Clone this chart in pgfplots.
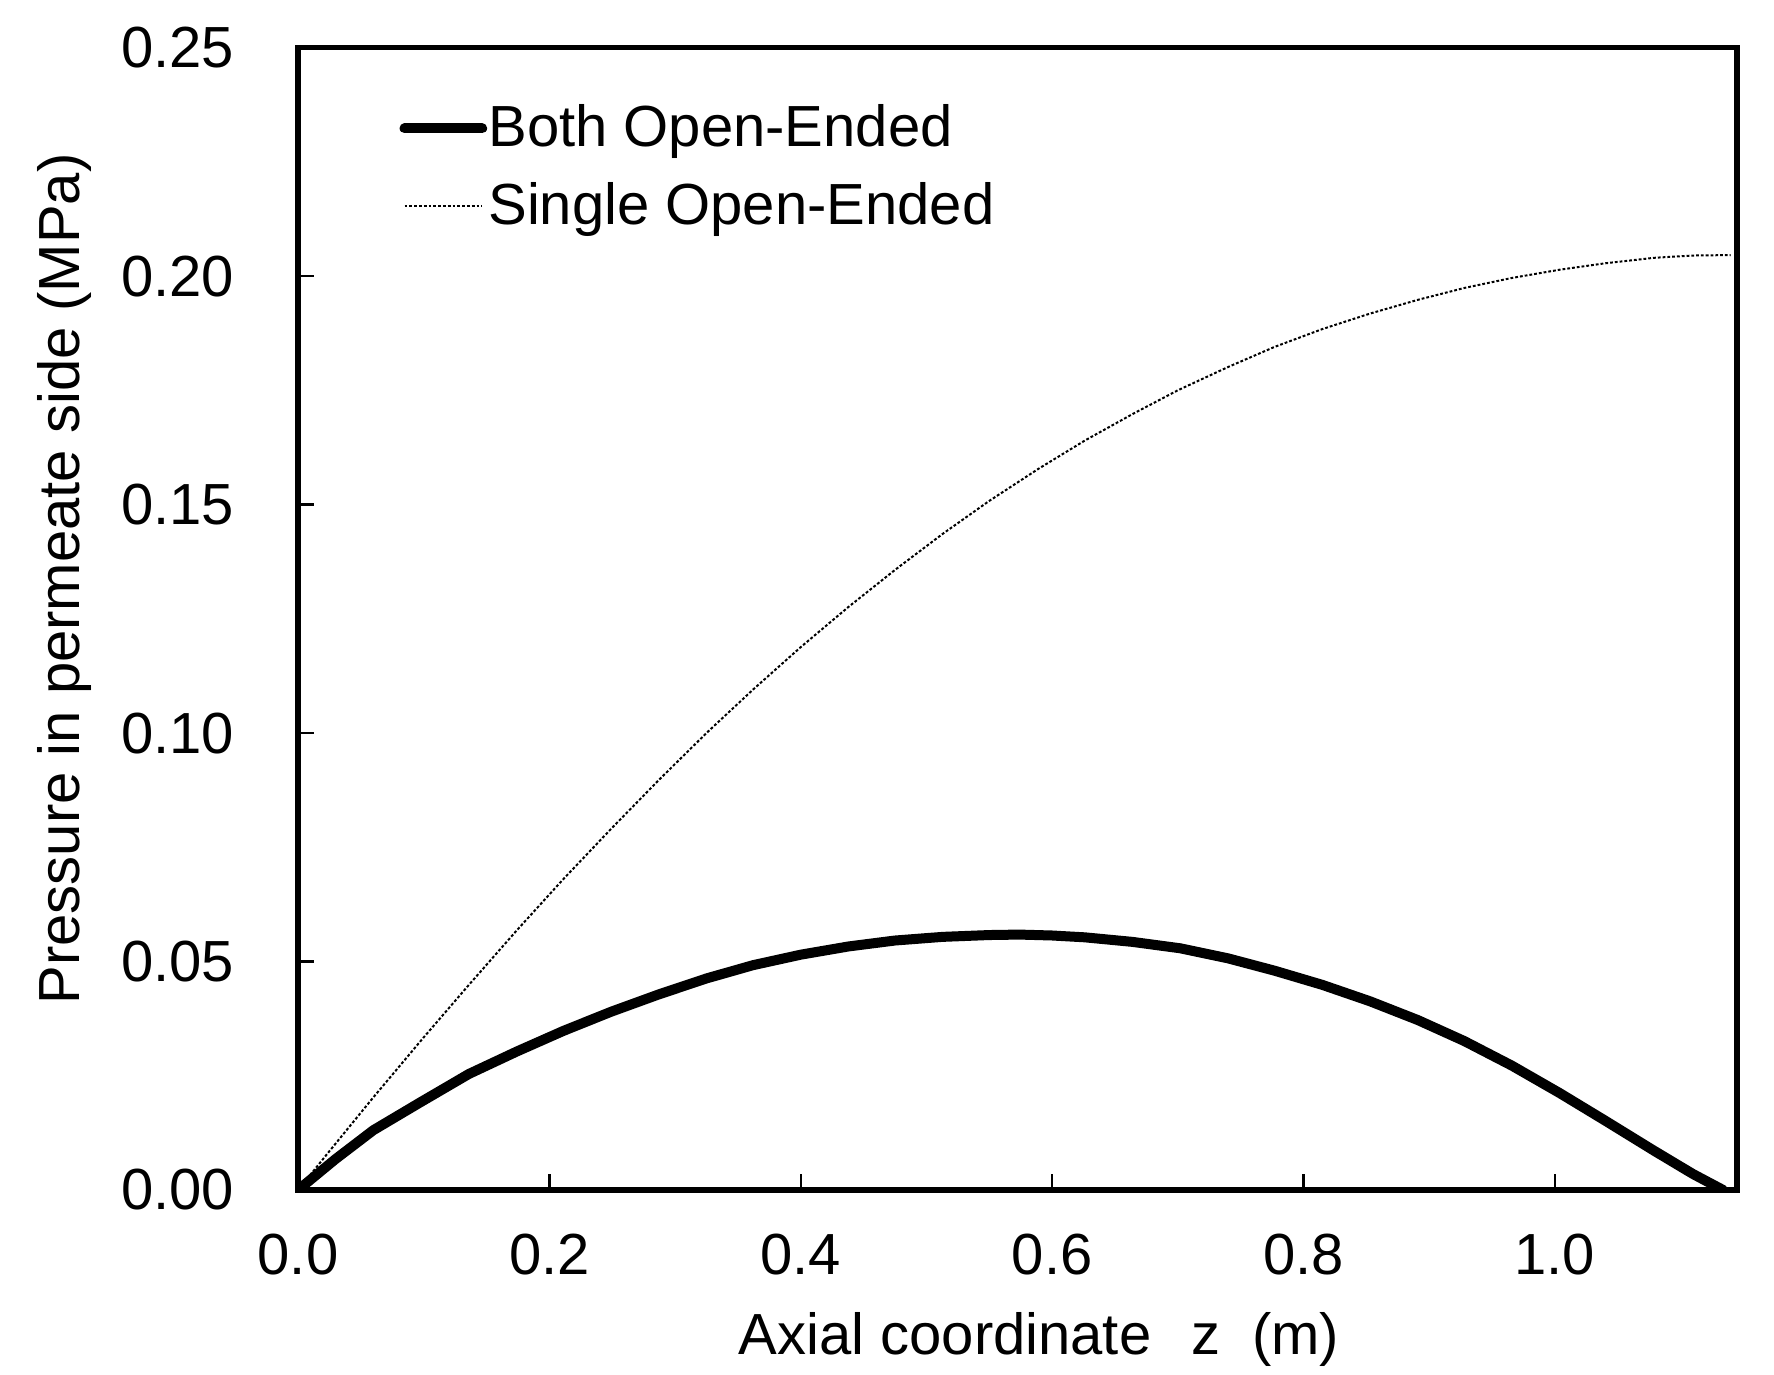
\documentclass[border=0pt]{standalone}
\usepackage{fontspec}
\setmainfont{Liberation Sans}
\usepackage{pgfplots}
\pgfplotsset{compat=1.18}

\pgfplotstableread{
x y
0 0
0.025 0.0085
0.06 0.0203
0.10 0.0334
0.136 0.0449
0.174 0.0568
0.211 0.0680
0.249 0.0790
0.287 0.0897
0.325 0.1000
0.362 0.1095
0.40 0.1188
0.438 0.1276
0.475 0.1357
0.513 0.1436
0.55 0.1508
0.589 0.1578
0.626 0.1640
0.664 0.1698
0.70 0.1750
0.74 0.1801
0.777 0.1845
0.815 0.1884
0.853 0.1918
0.891 0.1948
0.928 0.1974
0.966 0.1996
1.004 0.2014
1.04 0.2028
1.079 0.2040
1.11 0.2045
1.14 0.2046
}\singledata

\pgfplotstableread{
x y
0 0
0.03 0.0068
0.060 0.0131
0.098 0.0193
0.136 0.0254
0.174 0.0303
0.211 0.0348
0.249 0.0390
0.287 0.0428
0.325 0.0463
0.362 0.0492
0.40 0.0515
0.438 0.0533
0.475 0.0546
0.513 0.0554
0.55 0.0558
0.574 0.0559
0.60 0.0557
0.626 0.0553
0.664 0.0543
0.702 0.0529
0.74 0.0507
0.777 0.0480
0.815 0.0449
0.853 0.0413
0.891 0.0372
0.928 0.0326
0.966 0.0272
1.004 0.0212
1.04 0.0152
1.079 0.0086
1.11 0.0035
1.134 0.0
}\bothdata

\begin{document}
\begin{tikzpicture}
\begin{axis}[
  width=359.75pt, height=285.6pt, scale only axis,
  xmin=0, xmax=1.145, ymin=0, ymax=0.25,
  xtick={0,0.2,0.4,0.6,0.8,1.0},
  ytick={0,0.05,0.1,0.15,0.2,0.25},
  scaled ticks=false,
  xtick pos=bottom, ytick pos=left, tick align=inside,
  major tick length=4pt,
  axis line style={line width=1.3pt},
  every tick/.style={black, line width=0.6pt},
  /pgf/number format/assume math mode=true,
  xticklabel style={/pgf/number format/.cd, fixed, fixed zerofill, precision=1, /tikz/.cd, font=\fontsize{14.5}{17}\selectfont, yshift=-7.4pt},
  yticklabel style={/pgf/number format/.cd, fixed, fixed zerofill, precision=2, /tikz/.cd, font=\fontsize{14.5}{17}\selectfont, xshift=-12.4pt},
  xlabel={Axial coordinate\hspace{10pt}z\hspace{8pt}(m)},
  ylabel={Pressure in permeate side (MPa)},
  xlabel style={at={(axis description cs:0.515,-0.1436)}, anchor=base, inner sep=0pt, font=\fontsize{14.5}{17}\selectfont},
  ylabel style={at={(axis description cs:-0.1515,0.535)}, anchor=base, inner sep=0pt, font=\fontsize{14.5}{17}\selectfont},
  legend cell align=left,
  legend image code/.code={\draw[#1] (0pt,0pt) -- (19.4pt,0pt);},
  legend style={draw=none, fill=none, at={(axis description cs:0.070,0.958)}, anchor=north west,
    font=\fontsize{14.5}{17}\selectfont, row sep=3.4pt, inner sep=0pt,
    /tikz/every odd column/.append style={column sep=-1.7pt}},
]
\addplot[black, line width=2.5pt, line cap=round] table[x=x,y=y] {\bothdata};
\addlegendentry{Both Open-Ended}
\addplot[black, line width=0.5pt, dash pattern=on 0.7pt off 0.5pt] table[x=x,y=y] {\singledata};
\addlegendentry{Single Open-Ended}
\end{axis}
\path (current axis.south west) ++(-74.5pt,-46pt);
\path (current axis.north east) ++(9.25pt,11.9pt);
\end{tikzpicture}
\end{document}
